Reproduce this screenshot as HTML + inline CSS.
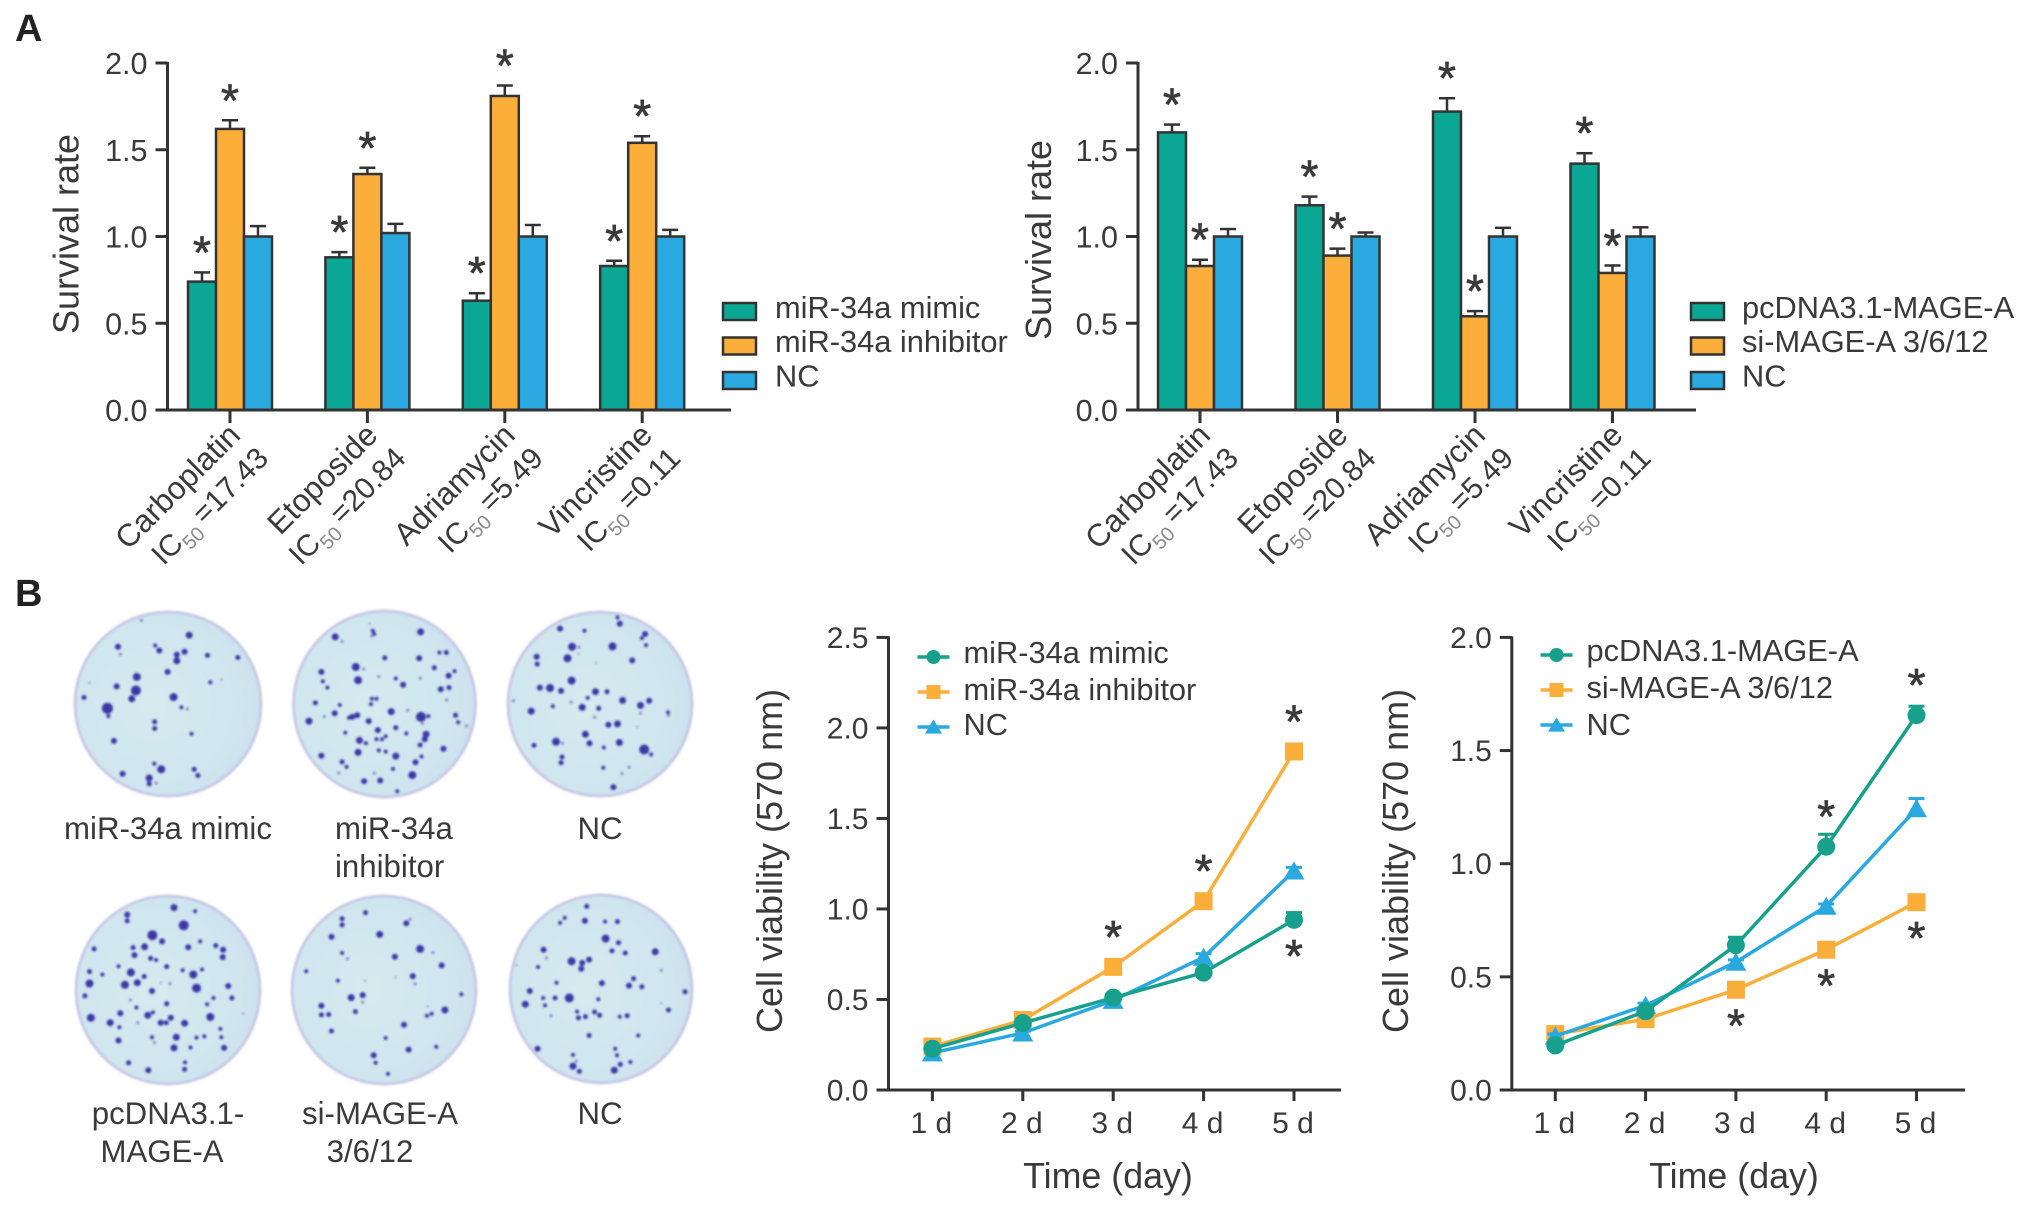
<!DOCTYPE html>
<html lang="en">
<head>
<meta charset="utf-8">
<title>Survival rate, colony formation and cell viability</title>
<style>
html,body{margin:0;padding:0;background:#fff;}
svg{display:block;}
text{font-family:"Liberation Sans",sans-serif;fill:#3a3a3a;}
</style>
</head>
<body>
<svg id="fig" xmlns="http://www.w3.org/2000/svg" width="2031" height="1217" viewBox="0 0 2031 1217">
  <defs>
    <radialGradient id="dishFill" cx="0.42" cy="0.5" r="0.62">
      <stop offset="0" stop-color="#d5eaef"/>
      <stop offset="0.75" stop-color="#d0e6ef"/>
      <stop offset="1" stop-color="#cadfee"/>
    </radialGradient>
    <filter id="soft" x="-10%" y="-10%" width="120%" height="120%"><feGaussianBlur stdDeviation="1"/></filter>
  </defs>
  <rect width="2031" height="1217" fill="#fff"/>
  <text x="15" y="41" font-size="38" font-weight="700" style="fill:#222">A</text>
  <text x="15" y="606" font-size="38" font-weight="700" style="fill:#222">B</text>
  <g id="dishes"></g>
  <g font-size="31.2">
    <text x="168" y="839" text-anchor="middle">miR-34a mimic</text>
    <text x="335" y="839">miR-34a</text>
    <text x="335" y="877">inhibitor</text>
    <text x="600" y="839" text-anchor="middle">NC</text>
    <text x="168" y="1124" text-anchor="middle">pcDNA3.1-</text>
    <text x="162" y="1162" text-anchor="middle">MAGE-A</text>
    <text x="380" y="1124" text-anchor="middle">si-MAGE-A</text>
    <text x="370" y="1162" text-anchor="middle">3/6/12</text>
    <text x="600" y="1124" text-anchor="middle">NC</text>
  </g>
  <g id="charts"></g>
</svg>
<script>
// ---------- chart data ----------
const drugCategories = ['Carboplatin','Etoposide','Adriamycin','Vincristine'];
const drugIc50 = ['=17.43','=20.84','=5.49','=0.11'];
const survivalTicks = ['0.0','0.5','1.0','1.5','2.0'];

const mirLegend = ['miR-34a mimic','miR-34a inhibitor','NC'];
const mirMimicSurvival = [0.74,0.88,0.63,0.83];
const mirMimicSurvivalErr = [0.053,0.03,0.043,0.03];
const mirInhibitorSurvival = [1.62,1.36,1.81,1.54];
const mirInhibitorSurvivalErr = [0.05,0.036,0.06,0.038];
const mirNcSurvival = [1.00,1.02,1.00,1.00];
const mirNcSurvivalErr = [0.06,0.053,0.066,0.038];

const mageLegend = ['pcDNA3.1-MAGE-A','si-MAGE-A 3/6/12','NC'];
const mageOverSurvival = [1.60,1.18,1.72,1.42];
const mageOverSurvivalErr = [0.045,0.05,0.077,0.06];
const mageSiSurvival = [0.83,0.89,0.54,0.79];
const mageSiSurvivalErr = [0.036,0.04,0.03,0.043];
const mageNcSurvival = [1.00,1.00,1.00,1.00];
const mageNcSurvivalErr = [0.043,0.023,0.05,0.053];

const dayLabels = ['1 d','2 d','3 d','4 d','5 d'];
const viabilityTicksMir = ['0.0','0.5','1.0','1.5','2.0','2.5'];
const viabilityTicksMage = ['0.0','0.5','1.0','1.5','2.0'];

const mirMimicViability = [0.228,0.37,0.51,0.648,0.94];
const mirMimicViabilityErr = [0.01,0.01,0.02,0.02,0.04];
const mirInhibitorViability = [0.24,0.387,0.68,1.043,1.87];
const mirInhibitorViabilityErr = [0.01,0.01,0.02,0.02,0.02];
const mirNcViability = [0.205,0.315,0.495,0.733,1.21];
const mirNcViabilityErr = [0.01,0.01,0.01,0.02,0.02];
const mirStarDays = [2,3,4,4];
const mirStarSeries = [1,1,1,0];
const mirStarBelow = [false,false,false,true];

const mageOverViability = [0.197,0.348,0.64,1.075,1.656];
const mageOverViabilityErr = [0.01,0.01,0.035,0.055,0.04];
const mageSiViability = [0.247,0.313,0.443,0.62,0.83];
const mageSiViabilityErr = [0.01,0.01,0.01,0.01,0.01];
const mageNcViability = [0.238,0.374,0.565,0.812,1.243];
const mageNcViabilityErr = [0.01,0.01,0.01,0.01,0.045];
const mageStarDays = [3,4,2,3,4];
const mageStarSeries = [0,0,1,1,1];
const mageStarBelow = [false,false,true,true,true];

// ---------- colony dish photographs (approximated): x, y, radius ----------
const dishColonies = [
 {cx:168,cy:704,rx:93,ry:92,spots:[[412,158,3.5],[257,186,3],[338,183,2],[347,195,3],[402,198,3],[385,205,3],[385,220,3.5],[262,204,1.5],[452,207,2.5],[518,212,2.5],[365,247,3],[298,259,4],[458,272,2],[254,282,3],[296,292,5],[287,312,3.5],[183,309,2.5],[378,308,4],[234,335,5.5],[395,333,2],[408,337,1.5],[236,354,2],[337,368,2.5],[337,384,2.5],[417,397,2],[248,414,3],[336,469,2],[351,483,4],[423,483,2.5],[431,498,2.5],[267,494,3],[325,504,3.5],[325,518,2.5],[340,516,1.5],[308,122,1.5],[195,273,1],[483,265,1]]},
 {cx:384.5,cy:704,rx:91,ry:93,spots:[[730,162,3.5],[745,173,1.5],[812,147,2],[815,155,2],[810,160,1.5],[916,150,3.5],[838,213,2.5],[913,214,3],[957,200,2],[972,200,2.5],[946,237,2.5],[990,245,2],[977,256,3],[775,235,4],[792,240,1.5],[700,247,3],[780,267,4],[825,258,1.5],[862,263,2],[878,278,3],[703,270,2],[713,285,2],[915,262,1.5],[960,289,3],[978,285,2.5],[687,322,2.5],[810,312,2],[820,312,2],[808,325,2],[740,327,2],[729,347,3],[706,355,1.5],[778,352,3],[767,356,3],[760,358,2],[852,343,3.5],[888,340,1.5],[917,356,5],[933,354,2],[673,366,3.5],[803,366,3],[992,352,2.5],[998,369,2],[973,315,1.5],[920,372,1.5],[823,388,3],[862,382,2.5],[885,396,2],[928,398,3.5],[925,410,3],[840,403,2],[783,413,3.5],[797,420,2],[820,410,2],[832,410,2],[752,394,2],[915,424,2.5],[1016,378,1.5],[780,442,3.5],[825,437,2],[840,440,2],[966,433,3],[700,450,3],[862,451,3.5],[745,465,2.5],[755,477,2],[918,452,2],[905,466,3],[856,482,2],[738,492,1.5],[815,492,1.5],[898,497,4],[793,512,3],[828,510,3],[865,536,2],[805,130,1]]},
 {cx:600,cy:704,rx:92,ry:92,spots:[[1220,142,3],[1273,147,2],[1345,115,2],[1350,130,3],[1405,155,3],[1398,165,2],[1407,182,2],[1246,186,4],[1261,187,1.5],[1334,185,4],[1236,214,4],[1169,210,3],[1170,228,2.5],[1377,219,3],[1260,203,1],[1245,268,4],[1298,225,1],[1176,285,3],[1198,286,4],[1222,293,3],[1297,295,3.5],[1322,295,2.5],[1280,310,2],[1244,320,1.5],[1204,330,2],[1268,333,3.5],[1304,335,2.5],[1356,316,3.5],[1395,328,3.5],[1414,317,3],[1395,347,1.5],[1157,342,3.5],[1118,317,1.5],[1455,345,2],[1456,352,1.5],[1295,357,1.5],[1325,375,3],[1345,373,3.5],[1275,398,3.5],[1284,420,3],[1211,416,4],[1225,420,1.5],[1349,418,3.5],[1315,430,2],[1163,425,2.5],[1403,435,5],[1418,447,2],[1224,453,2.5],[1222,467,2.5],[1314,479,2],[1370,478,1.5],[1355,493,1.5],[1336,526,3],[1388,380,1]]},
 {cx:168,cy:990,rx:92,ry:94,spots:[[379,818,3.5],[425,827,2],[277,835,3],[277,850,2.5],[400,861,5],[332,885,5],[353,900,3],[315,913,3.5],[290,915,2.5],[410,914,3],[436,900,2],[470,910,2.5],[486,920,3],[485,938,3],[293,933,3],[205,918,2.5],[328,941,2.5],[340,945,2],[258,960,2],[363,961,2.5],[398,970,2],[421,980,4],[440,968,2],[195,973,2.5],[223,980,2],[285,975,4],[314,985,2.5],[195,1002,4],[272,1005,4],[299,1000,3.5],[370,1002,1.5],[428,1013,4.5],[497,1008,3],[331,1020,3],[185,1032,2.5],[505,1037,2.5],[465,1037,2],[451,1052,2],[363,1051,2.5],[284,1042,1.5],[297,1060,2],[262,1074,3],[322,1079,3.5],[333,1072,2],[198,1085,4],[372,1085,3],[458,1083,4],[240,1097,3.5],[350,1097,3],[362,1097,2.5],[402,1098,3.5],[260,1108,2],[300,1097,1.5],[480,1112,2],[331,1132,2],[384,1132,3.5],[428,1133,2],[445,1130,2],[482,1132,2],[258,1140,3],[336,1145,1.5],[488,1158,3],[379,1158,3.5],[415,1157,2],[280,1194,2.5],[323,1212,3],[403,1193,2],[402,1210,2.5],[530,1075,1],[350,1000,1]]},
 {cx:384,cy:990,rx:92,ry:94,spots:[[796,830,2.5],[745,845,2.5],[745,860,2.5],[885,856,3],[722,889,3],[827,883,3.5],[893,846,1.5],[915,918,4],[745,928,2],[757,942,1.5],[860,937,3],[943,927,1.5],[962,958,3],[667,972,2],[899,984,3],[904,1003,1.5],[736,995,2],[795,995,1],[765,1036,3.5],[790,1030,3],[790,1047,1.5],[700,1056,3],[774,1070,2.5],[700,1078,2.5],[716,1077,2.5],[969,1066,3.5],[940,1075,2],[930,1080,2],[932,1058,1],[1005,1028,2],[880,1102,3],[722,1117,2.5],[840,1134,2],[890,1162,3],[950,1155,2],[814,1176,3],[818,1194,2],[845,1221,2],[862,987,1]]},
 {cx:601,cy:989,rx:91,ry:94,spots:[[1278,815,2.5],[1230,843,2],[1220,855,2],[1274,850,3],[1318,852,2],[1345,852,2.5],[1319,893,4],[1347,903,2.5],[1333,923,2.5],[1362,928,2.5],[1427,925,3.5],[1184,920,3],[1190,940,1.5],[1245,948,4],[1268,952,3],[1283,944,3],[1266,966,3],[1172,962,2],[1440,970,1.5],[1380,990,2.5],[1311,1001,3],[1370,1007,3],[1398,1010,2.5],[1212,1000,2],[1154,1020,3],[1492,1022,2.5],[1183,1037,2],[1209,1037,2.5],[1240,1037,4.5],[1303,1040,2],[1144,1052,3.5],[1187,1055,2],[1456,1066,2.5],[1257,1070,2],[1260,1085,2.5],[1275,1082,2.5],[1295,1071,2.5],[1306,1079,2.5],[1350,1082,2],[1366,1080,2.5],[1200,1080,1.5],[1283,1128,2.5],[1390,1128,2],[1171,1160,3],[1340,1160,2],[1344,1176,2],[1248,1175,2],[1255,1190,1.5],[1248,1202,3.5],[1262,1215,2.5],[1351,1198,2.5],[1373,1192,2],[1338,1212,3.5],[1125,958,1],[1440,1050,1]]}
];

// ---------- helpers ----------
const NS = 'http://www.w3.org/2000/svg';
const TEAL = '#0aa795', ORANGE = '#fbae3a', BLUE = '#29a9e0', INK = '#333333';
function mk(tag, props, parent){
  const n = document.createElementNS(NS, tag);
  for (const k in props) n.setAttribute(k, props[k]);
  parent.appendChild(n);
  return n;
}
function put(tag, props, parent, name, interactive){
  const n = mk(tag, props, parent);
  
  
  return n;
}
function axisLine(x1,y1,x2,y2,parent,name){
  return put('line',{x1:x1,y1:y1,x2:x2,y2:y2,stroke:INK,'stroke-width':3},parent,name,false);
}
function star(x,y,parent){
  const t = put('text',{x:x,y:y+22,'text-anchor':'middle','font-size':46,stroke:'#3a3a3a','stroke-width':0.7},parent,'significance-star',false);
  t.textContent = '*';
  return t;
}
function label(x,y,str,size,anchor,parent,name){
  const t = put('text',{x:x,y:y,'font-size':size,'text-anchor':anchor},parent,name,false);
  t.textContent = str;
  return t;
}

// ---------- dishes ----------
(function(){
  const host = document.getElementById('dishes');
  dishColonies.forEach(function(d,i){
    const g = put('g',{},host,'colony-dish-'+(i+1),false);
    put('ellipse',{cx:d.cx,cy:d.cy,rx:d.rx,ry:d.ry,fill:'url(#dishFill)',stroke:'#c2c2e4','stroke-width':2.5,filter:'url(#soft)'},g,'dish-plate',false);
    const spots = put('g',{filter:'url(#soft)'},g,'colonies',false);
    d.spots.forEach(function(s){
      put('circle',{cx:(s[0]/2.178).toFixed(1),cy:(s[1]/2.423+570).toFixed(1),r:s[2],fill:s[2]<2?'#7d80c2':'#3a39a6'},spots,'colony',false);
    });
  });
})();

// ---------- bar charts ----------
function barChart(cfg){
  const root = put('g',{},document.getElementById('charts'),cfg.name,false);
  const y0 = 410, yTop = 63, maxV = 2;
  const y = function(v){ return y0 - v/maxV*(y0-yTop); };
  const x = function(i){ return cfg.tick0 + i*cfg.step; };
  const bw = 28;
  const colors = [TEAL,ORANGE,BLUE];
  // bars and error bars
  cfg.series.forEach(function(vals,j){
    vals.forEach(function(v,i){
      const left = x(i) - 1.5*bw + j*bw;
      const mid = left + bw/2;
      const top = y(v + cfg.errors[j][i]);
      put('line',{x1:mid,y1:y(v),x2:mid,y2:top,stroke:INK,'stroke-width':2.5},root,'error-bar',false);
      put('line',{x1:mid-8,y1:top,x2:mid+8,y2:top,stroke:INK,'stroke-width':2.5},root,'error-cap',false);
      put('rect',{x:left,y:y(v),width:bw,height:y0-y(v),fill:colors[j],stroke:INK,'stroke-width':2.5},root,'bar-'+cfg.keys[j]+'-'+drugCategories[i].toLowerCase(),false);
      if (j<2) star(mid, top-26, root);
    });
  });
  // axes
  axisLine(cfg.axisX,yTop-1,cfg.axisX,y0,root,'y-axis');
  axisLine(cfg.axisX-12,y0,cfg.axisEnd,y0,root,'x-axis');
  cfg.ticks.forEach(function(t){
    const v = parseFloat(t);
    axisLine(cfg.axisX-12,y(v),cfg.axisX,y(v),root,'y-tick');
    label(cfg.axisX-20,y(v)+11,t,30.5,'end',root,'y-tick-label');
  });
  // y title
  const yt = label(0,0,'Survival rate',36,'middle',root,'y-axis-title');
  yt.setAttribute('transform','translate('+cfg.titleX+','+cfg.titleY+') rotate(-90)');
  // x labels
  drugCategories.forEach(function(c,i){
    axisLine(x(i),y0,x(i),y0+13,root,'x-tick');
    const l1 = label(0,0,c,31.5,'end',root,'x-tick-label');
    l1.setAttribute('transform','translate('+(x(i)+12)+',437) rotate(-45)');
    const l2 = put('text',{'font-size':30,'text-anchor':'end',transform:'translate('+(x(i)+40)+',460) rotate(-45)'},root,'ic50-label',false);
    const a = mk('tspan',{},l2); a.textContent = 'IC';
    const b = mk('tspan',{dy:8,'font-size':20,style:'fill:#8a8a8a'},l2); b.textContent = '50 ';
    const e = mk('tspan',{dy:-8},l2); e.textContent = drugIc50[i];
  });
  // legend
  const legendTop = [303,337.5,372];
  const baselines = [318,352,386.5];
  cfg.legend.forEach(function(t,j){
    const lg = put('g',{},root,'legend-entry',false);
    put('rect',{x:cfg.legendX,y:legendTop[j],width:cfg.legendW,height:17,fill:colors[j],stroke:INK,'stroke-width':2.5},lg,'legend-swatch',false);
    label(cfg.legendTextX,baselines[j],t,30.8,'start',lg,'legend-label');
  });
}
barChart({name:'survival-chart-mir34a',tick0:230,step:137.4,axisX:167.5,axisEnd:731,titleX:78.5,titleY:234,
  keys:['mimic','inhibitor','nc'],
  series:[mirMimicSurvival,mirInhibitorSurvival,mirNcSurvival],
  errors:[mirMimicSurvivalErr,mirInhibitorSurvivalErr,mirNcSurvivalErr],
  ticks:survivalTicks,legend:mirLegend,legendX:723,legendW:33,legendTextX:775});
barChart({name:'survival-chart-mage',tick0:1200,step:137.5,axisX:1138,axisEnd:1696,titleX:1051,titleY:240,
  keys:['overexpression','si','nc'],
  series:[mageOverSurvival,mageSiSurvival,mageNcSurvival],
  errors:[mageOverSurvivalErr,mageSiSurvivalErr,mageNcSurvivalErr],
  ticks:survivalTicks,legend:mageLegend,legendX:1691,legendW:33,legendTextX:1742});

// ---------- line charts ----------
function marker(kind,cx,cy,size,color,parent){
  if (kind==='circle') return put('circle',{cx:cx,cy:cy,r:size/2,fill:color},parent,'marker-circle',false);
  if (kind==='square') return put('rect',{x:cx-size/2,y:cy-size/2,width:size,height:size,fill:color},parent,'marker-square',false);
  const h = size*0.95;
  return put('polygon',{points:[cx,cy-h/2-1,cx+size/2+1.5,cy+h/2,cx-size/2-1.5,cy+h/2].join(','),fill:color},parent,'marker-triangle',false);
}
function lineChart(cfg){
  const root = put('g',{},document.getElementById('charts'),cfg.name,false);
  const y0 = 1090, yTop = 637.4;
  const y = function(v){ return y0 - v/cfg.maxV*(y0-yTop); };
  const x = function(i){ return cfg.tick0 + i*cfg.step; };
  const kinds = ['circle','square','triangle'];
  const colors = ['#17a08c',ORANGE,BLUE];
  axisLine(cfg.axisX,yTop-1,cfg.axisX,y0+1,root,'y-axis');
  axisLine(cfg.axisX-12,y0,cfg.axisEnd,y0,root,'x-axis');
  cfg.ticks.forEach(function(t){
    const v = parseFloat(t);
    axisLine(cfg.axisX-12,y(v),cfg.axisX,y(v),root,'y-tick');
    label(cfg.axisX-20,y(v)+10.5,t,30,'end',root,'y-tick-label');
  });
  dayLabels.forEach(function(d,i){
    axisLine(x(i),y0,x(i),y0+11,root,'x-tick');
    label(x(i)-1,1133,d,30,'middle',root,'x-tick-label');
  });
  const yt = label(0,0,'Cell viability (570 nm)',36,'middle',root,'y-axis-title');
  yt.setAttribute('transform','translate('+cfg.titleX+',861) rotate(-90)');
  label(cfg.xTitleX,1188,'Time (day)',35.8,'middle',root,'x-axis-title');
  cfg.order.forEach(function(j){
    const vals = cfg.series[j];
    const s = put('g',{},root,'series-'+cfg.keys[j],false);
    put('polyline',{points:vals.map(function(v,i){return x(i)+','+y(v);}).join(' '),fill:'none',stroke:colors[j],'stroke-width':3.5},s,'series-line',false);
    vals.forEach(function(v,i){
      const t = y(v+cfg.errors[j][i]);
      put('line',{x1:x(i),y1:y(v),x2:x(i),y2:t,stroke:colors[j],'stroke-width':3},s,'error-bar',false);
      put('line',{x1:x(i)-8,y1:t,x2:x(i)+8,y2:t,stroke:colors[j],'stroke-width':3},s,'error-cap',false);
      marker(kinds[j],x(i),y(v),18,colors[j],s);
    });
  });
  cfg.starDays.forEach(function(d,k){
    const v = cfg.series[cfg.starSeries[k]][d];
    star(x(d), y(v) + (cfg.starBelow[k] ? 30 : -36), root);
  });
  const ly = cfg.legendY, base = cfg.legendBase;
  cfg.legend.forEach(function(t,j){
    const lg = put('g',{},root,'legend-entry',false);
    put('line',{x1:cfg.legendX,y1:ly[j],x2:cfg.legendX+32,y2:ly[j],stroke:colors[j],'stroke-width':3.5},lg,'legend-line',false);
    marker(kinds[j],cfg.legendX+16,ly[j],14,colors[j],lg);
    label(cfg.legendX+46,base[j],t,30.8,'start',lg,'legend-label');
  });
}
lineChart({name:'viability-chart-mir34a',maxV:2.5,tick0:932.4,step:90.4,axisX:888.5,axisEnd:1341,titleX:782,xTitleX:1108,
  keys:['mimic','inhibitor','nc'],order:[1,2,0],
  series:[mirMimicViability,mirInhibitorViability,mirNcViability],
  errors:[mirMimicViabilityErr,mirInhibitorViabilityErr,mirNcViabilityErr],
  starDays:mirStarDays,starSeries:mirStarSeries,starBelow:mirStarBelow,
  ticks:viabilityTicksMir,legend:mirLegend,legendX:917.5,legendY:[657,692,727],legendBase:[663,700,735]});
lineChart({name:'viability-chart-mage',maxV:2,tick0:1555.3,step:90.3,axisX:1511.8,axisEnd:1965,titleX:1408,xTitleX:1734,
  keys:['overexpression','si','nc'],order:[1,2,0],
  series:[mageOverViability,mageSiViability,mageNcViability],
  errors:[mageOverViabilityErr,mageSiViabilityErr,mageNcViabilityErr],
  starDays:mageStarDays,starSeries:mageStarSeries,starBelow:mageStarBelow,
  ticks:viabilityTicksMage,legend:mageLegend,legendX:1540.5,legendY:[655,690,725],legendBase:[661,698,735]});
</script>
</body>
</html>
